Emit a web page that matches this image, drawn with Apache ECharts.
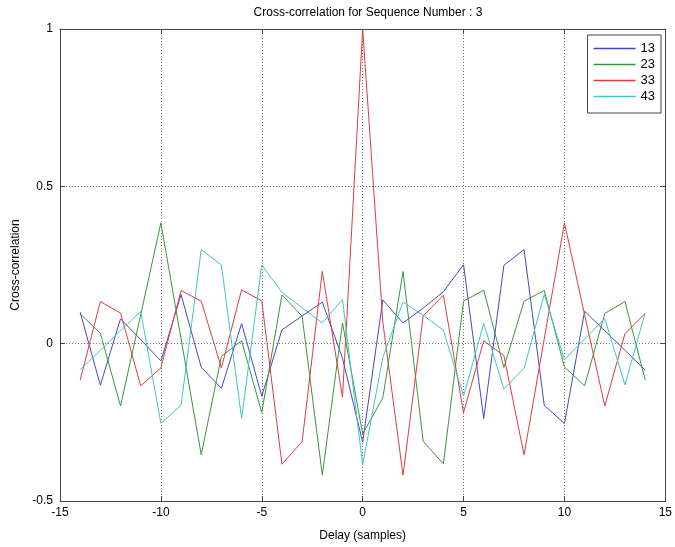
<!DOCTYPE html>
<html>
<head>
<meta charset="utf-8">
<script src="https://cdn.jsdelivr.net/npm/echarts@6/dist/echarts.min.js"></script>
<style>
html,body{margin:0;padding:0;background:#fff;}
#c{width:675px;height:547px;}
</style>
</head>
<body>
<div id="c"></div>
<script>
const delays = [-14,-13,-12,-11,-10,-9,-8,-7,-6,-5,-4,-3,-2,-1,0,1,2,3,4,5,6,7,8,9,10,11,12,13,14];
const seriesNames = ['13','23','33','43'];
const s13 = [0.100,-0.132,0.079,0.013,-0.055,0.156,-0.075,-0.142,0.064,-0.167,0.044,0.088,0.132,-0.046,-0.313,0.139,0.066,0.113,0.165,0.251,-0.238,0.249,0.299,-0.196,-0.254,0.103,0.041,-0.021,-0.084];
const s23 = [0.095,0.033,-0.198,0.092,0.384,0.015,-0.353,-0.040,0.009,-0.219,0.155,0.087,-0.418,0.066,-0.287,-0.172,0.229,-0.310,-0.382,0.135,0.170,-0.076,0.135,0.169,-0.074,-0.134,0.096,0.134,-0.115];
const s33 = [-0.116,0.134,0.097,-0.134,-0.077,0.169,0.135,-0.077,0.171,0.136,-0.383,-0.311,0.230,-0.170,1.000,0.068,-0.418,0.088,0.154,-0.219,0.009,-0.038,-0.353,0.015,0.384,0.092,-0.198,0.032,0.096];
const s43 = [-0.083,-0.021,0.041,0.103,-0.253,-0.196,0.299,0.250,-0.238,0.250,0.163,0.114,0.066,0.140,-0.385,-0.044,0.132,0.090,0.043,-0.167,0.064,-0.144,-0.078,0.156,-0.051,0.015,0.080,-0.131,0.098];
const xTicks = {min:-15, max:15, interval:5};
const yTicks = {min:-0.5, max:1, interval:0.5};
const titleText = 'Cross-correlation for Sequence Number : 3';
const xLabel = 'Delay (samples)';
const yLabel = 'Cross-correlation';

const colors = ['#4646c8','#3a963a','#e03a3e','#3cc6c6'];
const values = [s13, s23, s33, s43];
const font = 'Liberation Sans, Arial, sans-serif';

const chart = echarts.init(document.getElementById('c'), null, {renderer:'canvas'});
const axisCommon = {
  type:'value',
  axisLine:{show:true, onZero:false, lineStyle:{color:'#444', width:1}},
  axisTick:{show:true, inside:true, length:5, lineStyle:{color:'#444'}},
  axisLabel:{color:'#000', fontFamily:font, fontSize:12},
};
chart.setOption({
  animation:false,
  backgroundColor:'#fff',
  title:{text:titleText, left:363, textAlign:'center', top:2,
    textStyle:{fontFamily:font, fontSize:12, fontWeight:'normal', color:'#000'}},
  grid:{left:60, right:9, top:29, bottom:41, containLabel:false},
  legend:{
    orient:'vertical', right:14, top:35,
    data:seriesNames.map(n=>({name:n, icon:'rect'})),
    itemWidth:42, itemHeight:1.5, itemGap:3,
    padding:[7,6,10,6],
    borderColor:'#444', borderWidth:1, backgroundColor:'#fff',
    textStyle:{fontFamily:font, fontSize:13, color:'#000', lineHeight:13}
  },
  xAxis:[
    Object.assign({}, axisCommon, {position:'bottom', min:xTicks.min, max:xTicks.max, interval:xTicks.interval,
      name:xLabel, nameLocation:'middle', nameGap:29,
      nameTextStyle:{fontFamily:font, fontSize:12, color:'#000'},
      axisLabel:{color:'#000', fontFamily:font, fontSize:12, margin:6},
      splitLine:{show:true, lineStyle:{type:[1,2], color:'#777', width:1}}}),
    Object.assign({}, axisCommon, {position:'top', min:xTicks.min, max:xTicks.max, interval:xTicks.interval,
      axisLabel:{show:false}, splitLine:{show:false}})
  ],
  yAxis:[
    Object.assign({}, axisCommon, {position:'left', min:yTicks.min, max:yTicks.max, interval:yTicks.interval,
      name:yLabel, nameLocation:'middle', nameGap:37, nameRotate:90,
      nameTextStyle:{fontFamily:font, fontSize:12, color:'#000'},
      axisLabel:{color:'#000', fontFamily:font, fontSize:12, margin:7},
      splitLine:{show:true, lineStyle:{type:[1,2], color:'#777', width:1}}}),
    Object.assign({}, axisCommon, {position:'right', min:yTicks.min, max:yTicks.max, interval:yTicks.interval,
      axisLabel:{show:false}, splitLine:{show:false}})
  ],
  series: seriesNames.map((n,i)=>({
    name:n, type:'line', xAxisIndex:0, yAxisIndex:0,
    data: delays.map((d,j)=>[d, values[i][j]]),
    showSymbol:false, symbol:'none',
    lineStyle:{color:colors[i], width:1},
    itemStyle:{color:colors[i]},
    emphasis:{disabled:true}
  }))
});
</script>
</body>
</html>
